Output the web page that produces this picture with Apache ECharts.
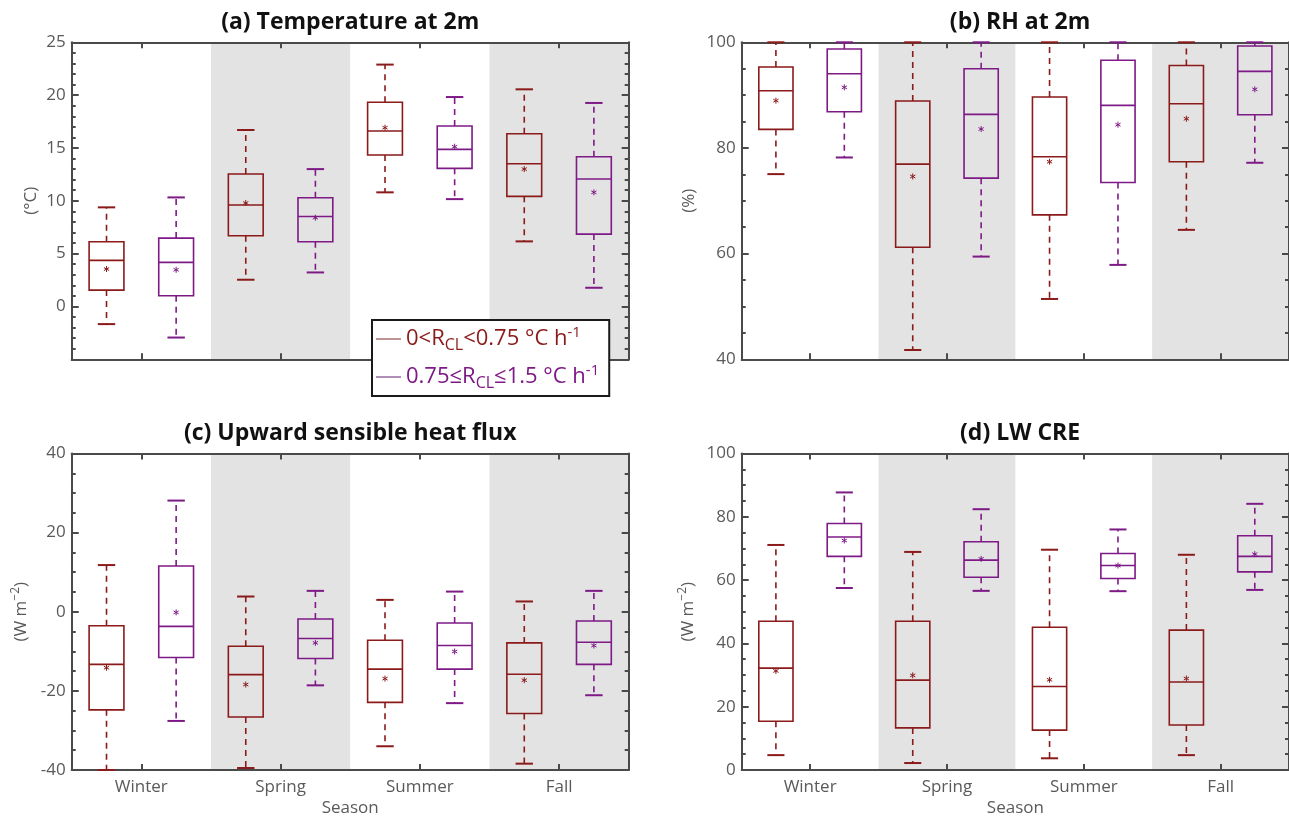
<!DOCTYPE html>
<html><head><meta charset="utf-8">
<script src="https://cdn.jsdelivr.net/npm/echarts@6/dist/echarts.min.js"></script>
<style>html,body{margin:0;padding:0;background:#fff}#c{width:1289px;height:818px}</style>
</head><body><div id="c"></div><script>
// ---- data ----
const seasons = ['Winter', 'Spring', 'Summer', 'Fall'];
const groupNames = ['0<R_CL<0.75', '0.75≤R_CL≤1.5'];
// each row: [lower whisker, Q1, median, Q3, upper whisker, mean]
const tempLow = [[-1.67, 1.55, 4.36, 6.12, 9.38, 3.54], [2.53, 6.69, 9.6, 12.53, 16.7, 9.79], [10.8, 14.33, 16.6, 19.32, 22.89, 16.92], [6.16, 10.42, 13.51, 16.35, 20.55, 13.0]];
const tempHigh = [[-2.94, 1.01, 4.17, 6.47, 10.32, 3.47], [3.22, 6.12, 8.52, 10.29, 13.0, 8.4], [10.16, 13.07, 14.87, 17.08, 19.82, 15.12], [1.77, 6.85, 12.06, 14.17, 19.26, 10.8]];
const rhLow = [[75.05, 83.51, 90.84, 95.33, 100, 88.95], [41.76, 61.21, 76.94, 88.88, 100, 74.6], [51.42, 67.34, 78.33, 89.64, 100, 77.4], [64.5, 77.38, 88.38, 95.6, 100, 85.53]];
const rhHigh = [[78.2, 86.86, 94.06, 98.74, 100, 91.47], [59.44, 74.29, 86.36, 95.0, 100, 83.58], [57.87, 73.47, 88.06, 96.59, 100, 84.4], [77.2, 86.3, 94.5, 99.3, 100, 91.1]];
const shfLow = [[-40, -24.8, -13.3, -3.52, 11.8, -14.15], [-39.5, -26.6, -15.9, -8.71, 3.85, -18.4], [-34.0, -22.9, -14.5, -7.2, 3.0, -16.9], [-38.4, -25.7, -15.8, -7.87, 2.6, -17.3]];
const shfHigh = [[-27.6, -11.56, -3.69, 11.56, 28.1, -0.17], [-18.6, -11.8, -6.78, -1.84, 5.28, -7.87], [-23.1, -14.5, -8.54, -2.85, 5.1, -10.05], [-21.1, -13.3, -7.7, -2.35, 5.28, -8.54]];
const lwLow = [[4.7, 15.4, 32.2, 47.0, 71.1, 31.3], [2.2, 13.3, 28.4, 47.0, 68.9, 29.9], [3.7, 12.6, 26.4, 45.1, 69.6, 28.5], [4.7, 14.2, 27.8, 44.2, 68.0, 28.9]];
const lwHigh = [[57.5, 67.5, 73.6, 77.9, 87.7, 72.5], [56.6, 60.9, 66.3, 72.1, 82.4, 66.7], [56.5, 60.5, 64.6, 68.4, 76.0, 64.6], [56.9, 62.6, 67.5, 74.0, 84.1, 68.2]];
const titles = ['(a) Temperature at 2m', '(b) RH at 2m', '(c) Upward sensible heat flux', '(d) LW CRE'];
const yNames = ['(°C)', '(%)', '(W m{sup|−2})', '(W m{sup|−2})'];
const yRanges = [[-5, 25, 5], [40, 100, 20], [-40, 40, 20], [0, 100, 20]];
const yMinorSplits = [5, 4, 4, 4];
const hiddenYLabels = [[-5], [], [], []];

// ---- style ----
const F = "'Open Sans', 'Noto Sans', sans-serif";
const RED = '#8b1a1a', PURPLE = '#7e1a86';
const AX = '#4a4a4a', LB = '#5a5a5a';
const grids = [
  {left: 71.7, top: 42.3, width: 557, height: 317},
  {left: 741.7, top: 42.3, width: 556.8, height: 317},
  {left: 71.7, top: 453.5, width: 557, height: 317.5},
  {left: 741.7, top: 453.5, width: 556.8, height: 317.5}
];
const nameGaps = [30, 42, 40, 43];
const lowSets = [tempLow, rhLow, shfLow, lwLow];
const highSets = [tempHigh, rhHigh, shfHigh, lwHigh];

function makeRender(offset, color) {
  return function (params, api) {
    const xi = api.value(0);
    const bw = api.size([1, 0])[0];
    const cx = api.coord([xi, api.value(3)])[0] + offset * bw;
    const half = bw * 0.125, capHalf = bw * 0.0625;
    const Y = i => api.coord([xi, api.value(i)])[1];
    const yLow = Y(1), yQ1 = Y(2), yMed = Y(3), yQ3 = Y(4), yHigh = Y(5), yMean = Y(6);
    const dash = {stroke: color, lineWidth: 1.6, lineDash: [6, 5], fill: null};
    const solid = {stroke: color, lineWidth: 1.6, fill: null};
    const cap = {stroke: color, lineWidth: 2, fill: null};
    const s = 3;
    return {type: 'group', children: [
      {type: 'line', shape: {x1: cx, y1: yQ3, x2: cx, y2: yHigh}, style: dash},
      {type: 'line', shape: {x1: cx, y1: yQ1, x2: cx, y2: yLow}, style: dash},
      {type: 'line', shape: {x1: cx - capHalf, y1: yHigh, x2: cx + capHalf, y2: yHigh}, style: cap},
      {type: 'line', shape: {x1: cx - capHalf, y1: yLow, x2: cx + capHalf, y2: yLow}, style: cap},
      {type: 'rect', shape: {x: cx - half, y: yQ3, width: 2 * half, height: yQ1 - yQ3}, style: solid},
      {type: 'line', shape: {x1: cx - half, y1: yMed, x2: cx + half, y2: yMed}, style: solid},
      {type: 'line', shape: {x1: cx, y1: yMean - s, x2: cx, y2: yMean + s}, style: {stroke: color, lineWidth: 1}},
      {type: 'line', shape: {x1: cx - s * 0.87, y1: yMean - s * 0.5, x2: cx + s * 0.87, y2: yMean + s * 0.5}, style: {stroke: color, lineWidth: 1}},
      {type: 'line', shape: {x1: cx - s * 0.87, y1: yMean + s * 0.5, x2: cx + s * 0.87, y2: yMean - s * 0.5}, style: {stroke: color, lineWidth: 1}}
    ]};
  };
}

const option = {
  animation: false,
  backgroundColor: '#fff',
  title: [], grid: grids, xAxis: [], yAxis: [], series: [],
  legend: {
    orient: 'vertical', left: 372, top: 320, selectedMode: false,
    padding: [5, 10, 5, 4], itemGap: 10, itemWidth: 25, itemHeight: 1.5, icon: 'rect',
    backgroundColor: '#fff', borderColor: '#1a1a1a', borderWidth: 2, borderRadius: 0,
    data: [
      {name: groupNames[0], itemStyle: {color: '#a87272'}},
      {name: groupNames[1], itemStyle: {color: '#946a9c'}}
    ],
    formatter: function (name) {
      if (name === groupNames[0]) return '{ra|0<R}{rb|CL}{ra|<0.75 °C h}{rc|-1}';
      return '{pa|0.75≤R}{pb|CL}{pa|≤1.5 °C h}{pc|-1}';
    },
    textStyle: {
      fontFamily: F, fontSize: 22,
      rich: {
        ra: {color: RED, fontSize: 22, fontFamily: F, lineHeight: 28, verticalAlign: 'middle'},
        rb: {color: RED, fontSize: 16, fontFamily: F, lineHeight: 15, verticalAlign: 'bottom'},
        rc: {color: RED, fontSize: 15, fontFamily: F, lineHeight: 14, verticalAlign: 'top'},
        pa: {color: PURPLE, fontSize: 22, fontFamily: F, lineHeight: 28, verticalAlign: 'middle'},
        pb: {color: PURPLE, fontSize: 16, fontFamily: F, lineHeight: 15, verticalAlign: 'bottom'},
        pc: {color: PURPLE, fontSize: 15, fontFamily: F, lineHeight: 14, verticalAlign: 'top'}
      }
    }
  }
};

for (let i = 0; i < 4; i++) {
  const g = grids[i];
  const showX = i >= 2;
  option.title.push({
    text: titles[i], left: g.left + g.width / 2, top: i < 2 ? 11 : 422, textAlign: 'center', padding: 0,
    textStyle: {fontFamily: F, fontSize: 23, fontWeight: 'bold', color: '#111'}
  });
  const xBase = {
    gridIndex: i, type: 'category', data: seasons, boundaryGap: true,
    axisLine: {show: true, onZero: false, lineStyle: {color: AX, width: 2}},
    axisTick: {show: true, inside: true, alignWithLabel: true, length: 6, lineStyle: {color: AX, width: 2}},
    splitLine: {show: false}
  };
  option.xAxis.push(Object.assign({}, xBase, {
    position: 'bottom',
    axisLabel: {show: showX, fontFamily: F, fontSize: 17, color: LB, margin: 9},
    splitArea: {show: true, areaStyle: {color: ['rgba(255,255,255,0)', '#e3e3e3']}},
    name: showX ? 'Season' : '', nameLocation: 'middle', nameGap: 30,
    nameTextStyle: {fontFamily: F, fontSize: 17, color: LB}
  }));
  option.xAxis.push(Object.assign({}, xBase, {position: 'top', axisLabel: {show: false}}));
  const [mn, mx, iv] = yRanges[i];
  const yBase = {
    gridIndex: i, type: 'value', min: mn, max: mx, interval: iv,
    axisLine: {show: true, onZero: false, lineStyle: {color: AX, width: 2}},
    axisTick: {show: true, inside: true, length: 7, lineStyle: {color: AX, width: 2}},
    minorTick: {show: true, splitNumber: yMinorSplits[i], length: 4, lineStyle: {color: AX, width: 2}},
    splitLine: {show: false}, minorSplitLine: {show: false}
  };
  option.yAxis.push(Object.assign({}, yBase, {
    position: 'left',
    axisLabel: {fontFamily: F, fontSize: 17, color: LB, margin: 6,
      formatter: v => hiddenYLabels[i].indexOf(v) >= 0 ? '' : String(v)},
    name: yNames[i], nameLocation: 'middle', nameGap: nameGaps[i], nameRotate: 90,
    nameTextStyle: {fontFamily: F, fontSize: 17, color: LB, lineHeight: 22,
      rich: {sup: {fontFamily: F, fontSize: 12, color: LB, lineHeight: 11, verticalAlign: 'top'}}}
  }));
  option.yAxis.push(Object.assign({}, yBase, {position: 'right', axisLabel: {show: false}}));
  const sets = [lowSets[i], highSets[i]];
  const cols = [RED, PURPLE];
  const offs = [-0.25, 0.25];
  for (let k = 0; k < 2; k++) {
    option.series.push({
      type: 'custom', name: groupNames[k], xAxisIndex: 2 * i, yAxisIndex: 2 * i,
      itemStyle: {color: cols[k]},
      renderItem: makeRender(offs[k], cols[k]),
      encode: {x: 0, y: [1, 2, 3, 4, 5, 6]},
      data: seasons.map((s, j) => [s].concat(sets[k][j])),
      z: 5
    });
  }
}

const chart = echarts.init(document.getElementById('c'), null, {renderer: 'canvas'});
chart.setOption(option);
</script></body></html>
